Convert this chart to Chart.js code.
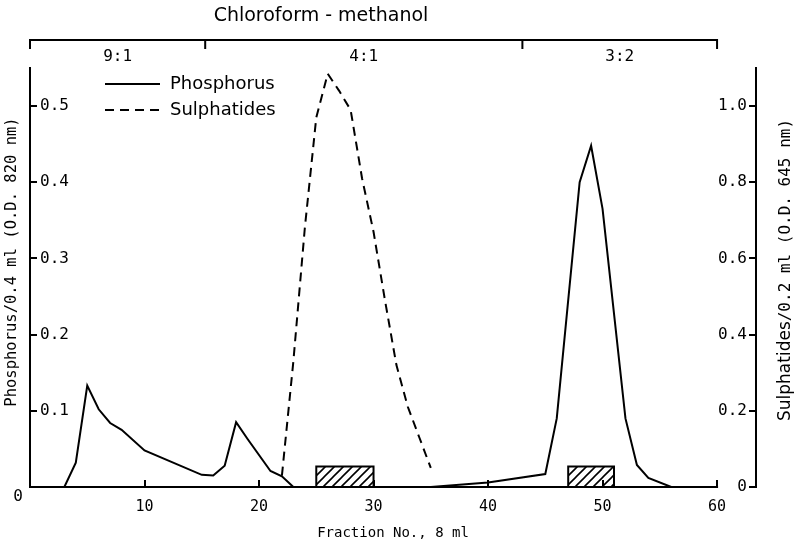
<!DOCTYPE html>
<html>
<head>
<meta charset="utf-8">
<title>Phosphorus and sulphatides</title>
<script src="https://cdn.jsdelivr.net/npm/chart.js"></script>
<style>
  html, body { margin: 0; padding: 0; background: #fff; }
  canvas { display: block; }
</style>
</head>
<body>
<canvas id="chart" width="799" height="547"></canvas>
<script>
var phosFraction = [3, 4, 5, 6, 7, 8, 10, 15, 16, 17, 18, 19, 21, 22, 23, 35, 40, 45, 46, 48, 49, 50, 52, 53, 54, 56];
var phosValue = [0, 0.032, 0.133, 0.102, 0.084, 0.075, 0.048, 0.016, 0.015, 0.028, 0.085, 0.063, 0.021, 0.014, 0, 0, 0.006, 0.017, 0.09, 0.40, 0.448, 0.365, 0.09, 0.029, 0.012, 0];

var sulfFraction = [22, 23, 24, 25, 26, 27, 28, 29, 30, 31, 32, 33, 34, 35];
var sulfValue = [0.03, 0.33, 0.68, 0.97, 1.085, 1.04, 0.99, 0.81, 0.67, 0.49, 0.32, 0.21, 0.13, 0.05];

var poolRanges = [[25, 30], [47, 51]];
var poolHeight = 0.027;

var xTickValues = [0, 10, 20, 30, 40, 50, 60];
var leftTickValues = [0.1, 0.2, 0.3, 0.4, 0.5];
var rightTickValues = [0, 0.2, 0.4, 0.6, 0.8, 1.0];

var solventBounds = [0, 15.3, 43, 60];
var solventLabels = ['9:1', '4:1', '3:2'];

var MONO = '"DejaVu Sans Mono", monospace';
var SANS = '"DejaVu Sans", sans-serif';

function toPoints(xs, ys) {
    var out = [];
    for (var i = 0; i < xs.length; i++) {
        out.push({x: xs[i], y: ys[i]});
    }
    return out;
}

function poolPoints(r) {
    return [{x: r[0], y: 0}, {x: r[0], y: poolHeight}, {x: r[1], y: poolHeight}, {x: r[1], y: 0}];
}

function hatchPattern() {
    var c = document.createElement('canvas');
    c.width = 9; c.height = 9;
    var g = c.getContext('2d');
    g.strokeStyle = '#000';
    g.lineWidth = 1.6;
    g.beginPath();
    g.moveTo(0, 9); g.lineTo(9, 0);
    g.moveTo(-2, 2); g.lineTo(2, -2);
    g.moveTo(7, 11); g.lineTo(11, 7);
    g.stroke();
    return g.createPattern(c, 'repeat');
}

function setTicks(values) {
    return function (scale) {
        scale.ticks = values.map(function (v) { return {value: v}; });
    };
}

// rotated text reading bottom to top, parts may use different fonts
function verticalText(ctx, cx, cy, parts) {
    ctx.save();
    ctx.translate(cx, cy);
    ctx.rotate(-Math.PI / 2);
    ctx.textAlign = 'left';
    ctx.textBaseline = 'middle';
    var total = 0;
    parts.forEach(function (p) { ctx.font = p[1]; p.w = ctx.measureText(p[0]).width; total += p.w; });
    var pos = -total / 2;
    parts.forEach(function (p) { ctx.font = p[1]; ctx.fillText(p[0], pos, 0); pos += p.w; });
    ctx.restore();
}

var decor = {
    id: 'decor',
    afterDraw: function (chart) {
        var ctx = chart.ctx;
        var xs = chart.scales.x;
        var area = chart.chartArea;
        ctx.save();
        ctx.strokeStyle = '#000';
        ctx.fillStyle = '#000';
        ctx.lineWidth = 2;

        // bottom axis stops at fraction 60
        ctx.beginPath();
        ctx.moveTo(area.left - 1, area.bottom);
        ctx.lineTo(xs.getPixelForValue(60) + 1, area.bottom);
        ctx.stroke();

        // solvent bracket on top
        var top = 40;
        ctx.beginPath();
        ctx.moveTo(xs.getPixelForValue(solventBounds[0]) - 1, top);
        ctx.lineTo(xs.getPixelForValue(solventBounds[solventBounds.length - 1]) + 1, top);
        for (var i = 0; i < solventBounds.length; i++) {
            var px = xs.getPixelForValue(solventBounds[i]);
            ctx.moveTo(px, top);
            ctx.lineTo(px, top + 9);
        }
        ctx.stroke();

        ctx.textAlign = 'center';
        ctx.textBaseline = 'middle';
        ctx.font = '16px ' + MONO;
        for (var j = 0; j < solventLabels.length; j++) {
            var mid = (xs.getPixelForValue(solventBounds[j]) + xs.getPixelForValue(solventBounds[j + 1])) / 2;
            ctx.fillText(solventLabels[j], mid, 57);
        }
        ctx.font = '19px ' + SANS;
        ctx.fillText('Chloroform - methanol', 321, 16);

        // origin label
        ctx.font = '16px ' + MONO;
        ctx.fillText('0', 18, 497);

        // legend
        ctx.textAlign = 'left';
        ctx.font = '18px ' + SANS;
        ctx.beginPath();
        ctx.moveTo(105, 84); ctx.lineTo(160, 84);
        ctx.stroke();
        ctx.fillText('Phosphorus', 170, 84);
        ctx.setLineDash([9, 6]);
        ctx.beginPath();
        ctx.moveTo(105, 110); ctx.lineTo(162, 110);
        ctx.stroke();
        ctx.setLineDash([]);
        ctx.fillText('Sulphatides', 170, 110);
        ctx.restore();

        verticalText(ctx, 12, 262, [['Phosphorus/0.4 ml (O.D. 820 nm)', '15.5px ' + MONO]]);
        verticalText(ctx, 786, 270, [['Sulphatides', '17px ' + SANS], ['/0.2 ml (O.D. 645 nm)', '16px ' + MONO]]);
    }
};

var ctx = document.getElementById('chart').getContext('2d');
var hatch = hatchPattern();

var datasets = [];
for (var k = 0; k < poolRanges.length; k++) {
    datasets.push({
        label: 'pool ' + (k + 1),
        data: poolPoints(poolRanges[k]),
        yAxisID: 'y',
        borderColor: '#000',
        borderWidth: 2,
        backgroundColor: hatch,
        fill: 'origin',
        pointRadius: 0,
        tension: 0
    });
}
datasets.push({
    label: 'Phosphorus',
    data: toPoints(phosFraction, phosValue),
    yAxisID: 'y',
    borderColor: '#000',
    borderWidth: 2,
    pointRadius: 0,
    fill: false,
    tension: 0
});
datasets.push({
    label: 'Sulphatides',
    data: toPoints(sulfFraction, sulfValue),
    yAxisID: 'y1',
    borderColor: '#000',
    borderWidth: 2,
    borderDash: [9, 6],
    pointRadius: 0,
    fill: false,
    tension: 0
});

new Chart(ctx, {
    type: 'line',
    data: {datasets: datasets},
    options: {
        responsive: false,
        animation: false,
        layout: {padding: {top: 68, left: 0, right: 0, bottom: 0}},
        plugins: {legend: {display: false}, tooltip: {enabled: false}},
        scales: {
            x: {
                type: 'linear',
                min: 0,
                max: 63.4,
                afterBuildTicks: setTicks(xTickValues),
                afterFit: function (scale) { scale.height = 60; },
                border: {display: false},
                grid: {drawOnChartArea: false, color: '#000', lineWidth: 2, tickLength: -7},
                ticks: {
                    color: '#000',
                    padding: 18,
                    font: {family: MONO, size: 15},
                    maxRotation: 0,
                    callback: function (v) { return v === 0 ? '' : String(v); }
                },
                title: {
                    display: true,
                    text: 'Fraction No., 8 ml',
                    color: '#000',
                    font: {family: MONO, size: 14},
                    padding: {top: 0, bottom: 5}
                }
            },
            y: {
                position: 'left',
                min: 0,
                max: 0.55,
                afterBuildTicks: setTicks(leftTickValues),
                afterFit: function (scale) { scale.width = 30; },
                border: {display: true, color: '#000', width: 2},
                grid: {drawOnChartArea: false, color: '#000', lineWidth: 2, tickLength: -7},
                ticks: {
                    mirror: true,
                    padding: 10,
                    color: '#000',
                    font: {family: MONO, size: 16},
                    callback: function (v) { return v.toFixed(1); }
                }
            },
            y1: {
                position: 'right',
                min: 0,
                max: 1.1,
                afterBuildTicks: setTicks(rightTickValues),
                afterFit: function (scale) { scale.width = 43; },
                border: {display: true, color: '#000', width: 2},
                grid: {drawOnChartArea: false, color: '#000', lineWidth: 2, tickLength: -7},
                ticks: {
                    mirror: true,
                    padding: -9,
                    color: '#000',
                    font: {family: MONO, size: 16},
                    callback: function (v) { return v === 0 ? '0' : v.toFixed(1); }
                }
            }
        }
    },
    plugins: [decor]
});
</script>
</body>
</html>
